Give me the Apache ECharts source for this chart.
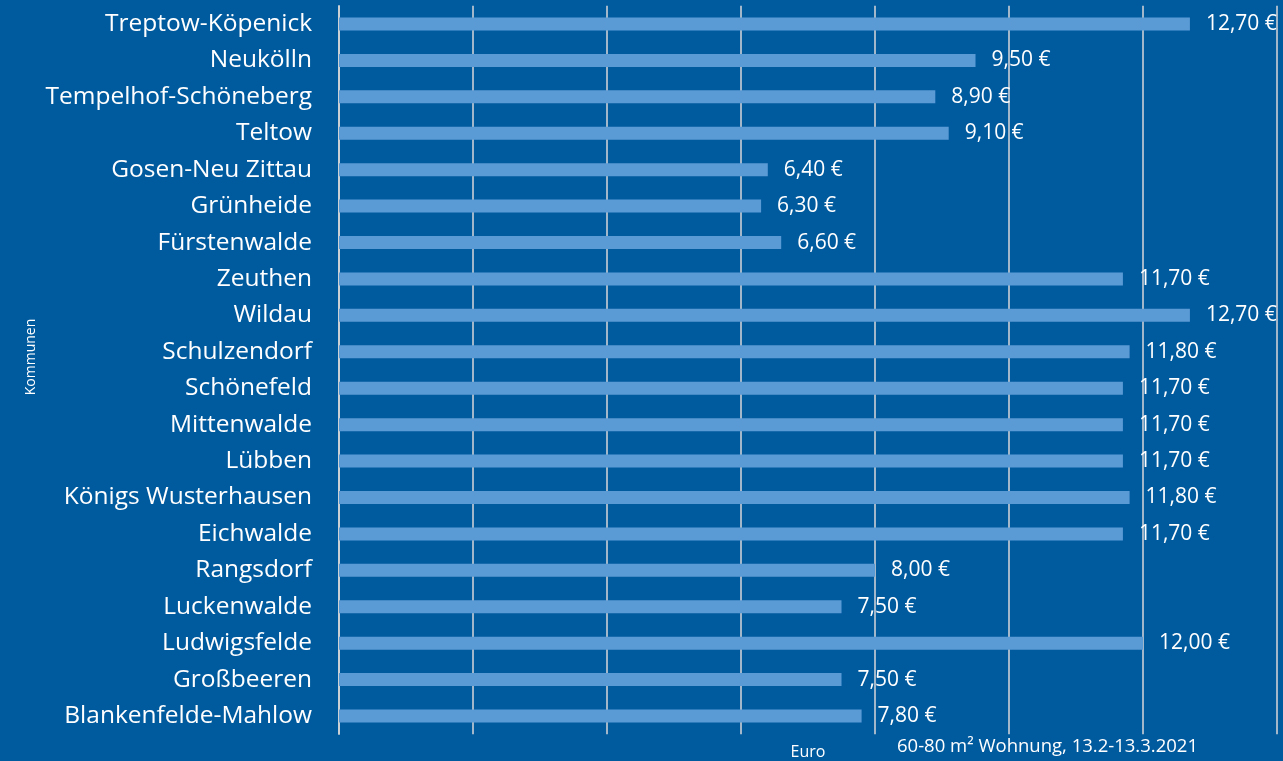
<!DOCTYPE html>
<html>
<head>
<meta charset="utf-8">
<script src="https://cdn.jsdelivr.net/npm/echarts@6/dist/echarts.min.js"></script>
<style>
html,body{margin:0;padding:0;background:#005a9e;}
#c{width:1283px;height:761px;}
</style>
</head>
<body>
<div id="c"></div>
<script>
const categories = ["Treptow-Köpenick","Neukölln","Tempelhof-Schöneberg","Teltow","Gosen-Neu Zittau","Grünheide","Fürstenwalde","Zeuthen","Wildau","Schulzendorf","Schönefeld","Mittenwalde","Lübben","Königs Wusterhausen","Eichwalde","Rangsdorf","Luckenwalde","Ludwigsfelde","Großbeeren","Blankenfelde-Mahlow"];
const values = [12.70,9.50,8.90,9.10,6.40,6.30,6.60,11.70,12.70,11.80,11.70,11.70,11.70,11.80,11.70,8.00,7.50,12.00,7.50,7.80];
const xAxisName = "Euro";
const yAxisName = "Kommunen";
const noteText = "60-80 m² Wohnung, 13.2-13.3.2021";

const chart = echarts.init(document.getElementById('c'), null, {renderer:'canvas'});
const font = "'Open Sans', 'Noto Sans', sans-serif";
chart.setOption({
  backgroundColor: '#005a9e',
  animation: false,
  grid: {left: 339, right: 6, top: 5.8, height: 728.4, containLabel: false, outerBoundsMode: 'none'},
  xAxis: {
    type: 'value', min: 0, max: 14, interval: 2,
    axisLabel: {show: false}, axisTick: {show: false}, axisLine: {show: false},
    splitLine: {show: true, lineStyle: {color: '#d9d9d9', width: 1.5}},
    name: xAxisName, nameLocation: 'middle', nameGap: 10,
    nameTextStyle: {color: '#ffffff', fontSize: 16, fontFamily: font}
  },
  yAxis: {
    type: 'category', data: categories, inverse: true,
    axisTick: {show: false},
    axisLine: {show: true, lineStyle: {color: '#d9d9d9', width: 1.5}},
    axisLabel: {color: '#ffffff', fontSize: 24.5, fontFamily: font, margin: 27, padding: [3, 0, 0, 0]}
  },
  graphic: [{
    type: 'text', x: 38, y: 357, rotation: Math.PI / 2,
    style: {text: yAxisName, fill: '#ffffff', fontSize: 14, fontFamily: font, align: 'center', verticalAlign: 'bottom'}
  }, {
    type: 'text', left: 897, top: 737,
    style: {text: noteText, fill: '#ffffff', fontSize: 18.5, fontFamily: font}
  }],
  series: [{
    type: 'bar', data: values, barWidth: 13,
    itemStyle: {color: '#5b9bd5'},
    label: {
      show: true, position: 'right', distance: 16, color: '#ffffff',
      fontSize: 21, fontFamily: font,
      formatter: p => p.value.toFixed(2).replace('.', ',') + ' €'
    }
  }]
});
</script>
</body>
</html>
